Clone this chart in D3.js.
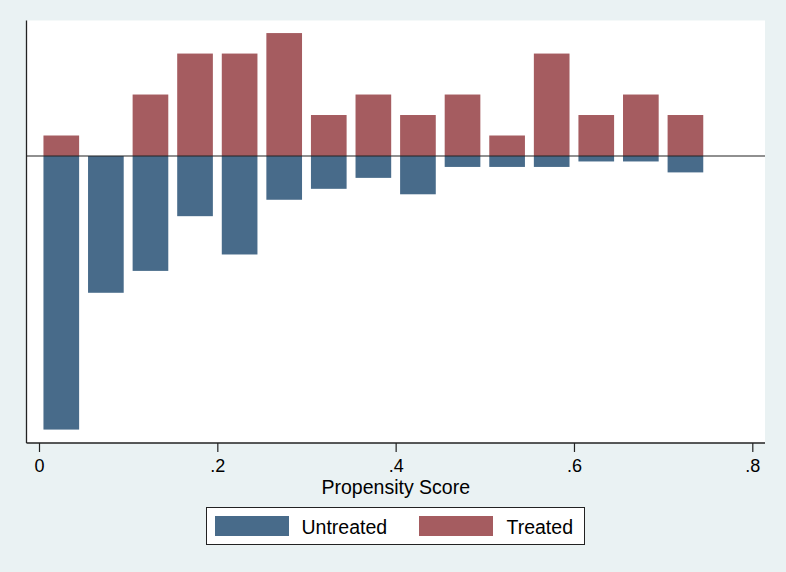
<!DOCTYPE html>
<html>
<head>
<meta charset="utf-8">
<script src="https://cdn.jsdelivr.net/npm/d3@7"></script>
<style>
  html, body { margin: 0; padding: 0; background: #eaf2f3; }
  svg { display: block; }
  text { font-family: "Liberation Sans", Arial, sans-serif; fill: #000; }
</style>
</head>
<body>
<svg id="chart" width="786" height="572"></svg>
<script>
// ---- Data ----
const binMid = [0.025, 0.075, 0.125, 0.175, 0.225, 0.275, 0.325, 0.375, 0.425, 0.475, 0.525, 0.575, 0.625, 0.675, 0.725];
const treatedCount   = [1, 0, 3, 5, 5, 6, 2, 3, 2, 3, 1, 5, 2, 3, 2];
const untreatedCount = [50, 25, 21, 11, 18, 8, 6, 4, 7, 2, 2, 2, 1, 1, 3];
const xTicks = [0, 0.2, 0.4, 0.6, 0.8];
const xTickLabels = ["0", ".2", ".4", ".6", ".8"];
const seriesNames = ["Untreated", "Treated"];
const binWidth = 0.04;

// ---- Layout ----
const W = 786, H = 572;
const plot = { left: 26.5, right: 765, top: 20.5, bottom: 443 };
const colors = { Untreated: "#486b8a", Treated: "#a55c60" };

const svg = d3.select("#chart");

const x = d3.scaleLinear().domain([0, 0.8]).range([39, 752.3]);
const y = d3.scaleLinear().domain([-0.3258, 0.1538]).range([plot.bottom, plot.top]);

const nT = d3.sum(treatedCount), nU = d3.sum(untreatedCount);
const treated = treatedCount.map((c, i) => ({ m: binMid[i], v: c / nT }));
const untreated = untreatedCount.map((c, i) => ({ m: binMid[i], v: -c / nU }));

// plot region
svg.append("rect")
  .attr("x", plot.left).attr("y", plot.top)
  .attr("width", plot.right - plot.left).attr("height", plot.bottom - plot.top)
  .attr("fill", "#fff");

// bars
function drawBars(data, color) {
  svg.append("g").selectAll("rect").data(data).join("rect")
    .attr("x", d => x(d.m - binWidth / 2))
    .attr("width", d => x(d.m + binWidth / 2) - x(d.m - binWidth / 2))
    .attr("y", d => Math.min(y(d.v), y(0)))
    .attr("height", d => Math.abs(y(d.v) - y(0)))
    .attr("fill", color);
}
drawBars(untreated, colors.Untreated);
drawBars(treated, colors.Treated);

// zero line
svg.append("line")
  .attr("x1", plot.left).attr("x2", plot.right)
  .attr("y1", y(0)).attr("y2", y(0))
  .attr("stroke", "#222").attr("stroke-width", 1.2);

// left axis line
svg.append("line")
  .attr("x1", plot.left).attr("x2", plot.left)
  .attr("y1", plot.top).attr("y2", plot.bottom)
  .attr("stroke", "#222").attr("stroke-width", 1.3);

// bottom axis
const xAxis = d3.axisBottom(x)
  .tickValues(xTicks)
  .tickFormat((d, i) => xTickLabels[i])
  .tickSize(9).tickSizeOuter(0).tickPadding(8);
const gx = svg.append("g").attr("transform", `translate(0,${plot.bottom})`).call(xAxis);
gx.attr("font-size", 18).attr("font-family", '"Liberation Sans", Arial, sans-serif');
gx.select(".domain").attr("d", `M${plot.left},0H${plot.right}`).attr("stroke", "#222").attr("stroke-width", 1.3);
gx.selectAll(".tick line").attr("stroke", "#222").attr("stroke-width", 1.2);
gx.selectAll(".tick text")
  .style("font-size", "18px").attr("fill", "#000")
  .attr("y", 16).attr("dy", "0.71em");

// axis title
svg.append("text")
  .attr("x", (plot.left + plot.right) / 2).attr("y", 493.5)
  .attr("text-anchor", "middle")
  .style("font-size", "19.5px")
  .text("Propensity Score");

// legend
const lg = svg.append("g");
lg.append("rect")
  .attr("x", 206.5).attr("y", 507.5).attr("width", 378).attr("height", 37)
  .attr("fill", "#fff").attr("stroke", "#222").attr("stroke-width", 1);
const legendItems = [
  { name: seriesNames[0], sx: 215, tx: 301.5 },
  { name: seriesNames[1], sx: 419, tx: 506.5 }
];
legendItems.forEach(it => {
  lg.append("rect").attr("x", it.sx).attr("y", 516).attr("width", 74).attr("height", 20)
    .attr("fill", colors[it.name]);
  lg.append("text").attr("x", it.tx).attr("y", 534)
    .style("font-size", "19.5px").text(it.name);
});
</script>
</body>
</html>
